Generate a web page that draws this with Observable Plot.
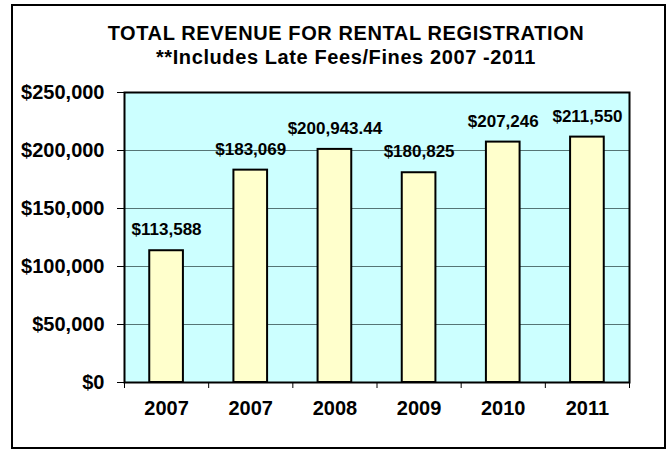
<!DOCTYPE html>
<html>
<head>
<meta charset="utf-8">
<script src="https://cdn.jsdelivr.net/npm/d3@7"></script>
<script src="https://cdn.jsdelivr.net/npm/@observablehq/plot@0.6"></script>
<style>
  html, body { margin: 0; padding: 0; background: #fff; color: #000; }
  #wrap { position: relative; width: 671px; height: 450px; overflow: hidden; }
  #border { position: absolute; left: 11px; top: 4px; width: 655px; height: 445px; box-sizing: border-box; border: 2px solid #000; }
  #title { position: absolute; left: 346px; top: 21px; transform: translateX(-50%); white-space: nowrap; text-align: center;
    font-family: "Liberation Sans", Arial, sans-serif; font-weight: bold; font-size: 20px; line-height: 24.4px; letter-spacing: 0.6px; }
  #chart { position: absolute; left: 0; top: 0; }
</style>
</head>
<body>
<div id="wrap">
  <div id="chart"></div>
  <div id="border"></div>
  <div id="title">TOTAL REVENUE FOR RENTAL REGISTRATION<br>**Includes Late Fees/Fines 2007 -2011</div>
</div>
<script>
const years = ["2007", "2007", "2008", "2009", "2010", "2011"];
const revenue = [113588, 183069, 200943.44, 180825, 207246, 211550];
const yTicks = [0, 50000, 100000, 150000, 200000, 250000];

const data = years.map((year, i) => ({i, year, value: revenue[i]}));
const money = v => "$" + (Number.isInteger(v) ? d3.format(",")(v) : d3.format(",.2f")(v));

const chart = Plot.plot({
  width: 671,
  height: 450,
  marginLeft: 124,
  marginRight: 42,
  marginTop: 92,
  marginBottom: 68,
  style: {fontFamily: "'Liberation Sans', Arial, sans-serif", background: "transparent", color: "#000"},
  x: {type: "linear", domain: [0, years.length], axis: null},
  y: {domain: [0, 250000], axis: null},
  marks: [
    Plot.frame({fill: "#CCFFFF", stroke: null}),
    Plot.gridY(yTicks.slice(1, -1), {stroke: "#557575", strokeOpacity: 1, strokeWidth: 1}),
    Plot.rectY(data, {x1: d => d.i + 0.3, x2: d => d.i + 0.7, y1: 0, y2: "value", fill: "#FFFFCC", stroke: "#000", strokeWidth: 2}),
    Plot.frame({stroke: "#000", strokeWidth: 2}),
    Plot.axisY({ticks: yTicks, tickSize: 7, tickPadding: 13, tickFormat: money, fontSize: 20, fontWeight: "bold", label: null, style: {letterSpacing: "0.8px"}}),
    Plot.axisX({ticks: d3.range(0, years.length + 1), tickSize: 6, tickFormat: () => "", label: null}),
    Plot.axisX({ticks: years.map((_, i) => i + 0.5), tickSize: 0, tickPadding: 18, tickFormat: d => years[Math.floor(d)], fontSize: 20, fontWeight: "bold", label: null}),
    Plot.text(data, {x: d => d.i + 0.5, y: "value", text: d => money(d.value), dy: -21, fontSize: 17, fontWeight: "bold", fill: "#000"})
  ]
});
document.getElementById("chart").appendChild(chart);
</script>
</body>
</html>
